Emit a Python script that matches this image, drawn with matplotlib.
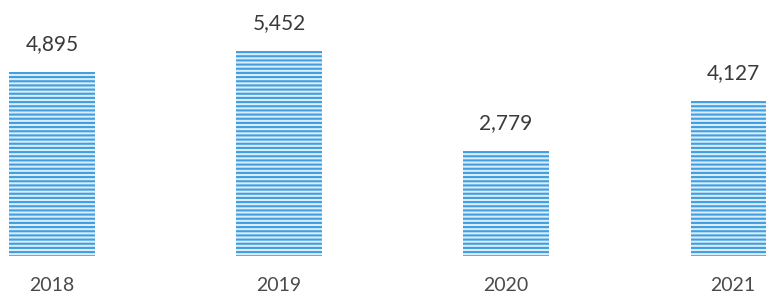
"""
Gráfico de barras hachuradas - valores anuais 2018-2021.
"""

import matplotlib
matplotlib.use("Agg")
import matplotlib.pyplot as plt

anos = ["2018", "2019", "2020", "2021"]
valores = [4895, 5452, 2779, 4127]

plt.rcParams['font.family'] = ['Lato', 'DejaVu Sans']
plt.rcParams['hatch.linewidth'] = 1.5

fig = plt.figure(figsize=(7.66, 2.95), dpi=100)
ax = fig.add_axes([0, 0.132, 1, 0.868])

x = range(len(anos))
ax.bar(x, valores, width=0.375, color='#dcedf9', edgecolor='#3f9fe0',
       linewidth=0, hatch='----')

for xi, v in zip(x, valores):
    ax.annotate(f"{v:,}", (xi, v), xytext=(0, 13), textcoords='offset points',
                ha='center', va='bottom', fontsize=15, color='#3a3a3a')

ax.set_xlim(-0.229, 3.145)
ax.set_ylim(0, 6800)
ax.set_xticks(list(x))
ax.set_xticklabels(anos, fontsize=14, color='#4a4a4a')
ax.tick_params(axis='x', length=0, pad=15)
ax.set_yticks([])
for s in ax.spines.values():
    s.set_visible(False)

fig.savefig('out.png', dpi=100)
